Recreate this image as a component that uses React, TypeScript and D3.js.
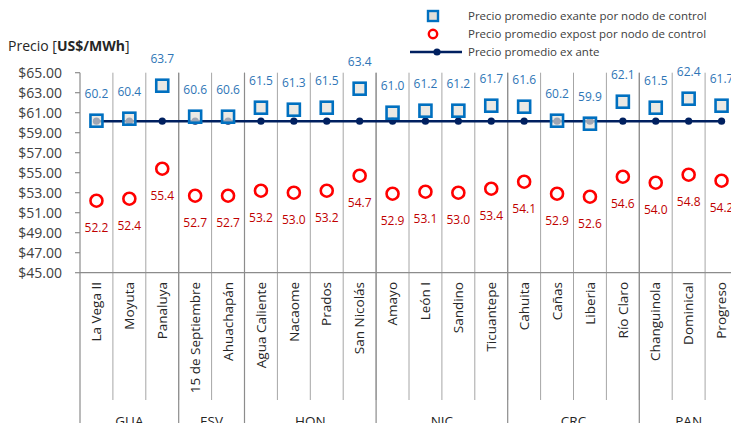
import React from "react";
import * as d3 from "d3";

const nodes = ["La Vega II","Moyuta","Panaluya","15 de Septiembre","Ahuachapán","Agua Caliente","Nacaome","Prados","San Nicolás","Amayo","León I","Sandino","Ticuantepe","Cahuita","Cañas","Liberia","Río Claro","Changuinola","Dominical","Progreso"];
const groups = ["GUA","ESV","HON","NIC","CRC","PAN"];
const groupSizes = [3,2,4,4,4,3];
const exanteNode = [60.2,60.4,63.7,60.6,60.6,61.5,61.3,61.5,63.4,61.0,61.2,61.2,61.7,61.6,60.2,59.9,62.1,61.5,62.4,61.7];
const expostNode = [52.2,52.4,55.4,52.7,52.7,53.2,53.0,53.2,54.7,52.9,53.1,53.0,53.4,54.1,52.9,52.6,54.6,54.0,54.8,54.2];
const exanteAvg = nodes.map(() => 60.15);
const yTicks = [45,47,49,51,53,55,57,59,61,63,65];
const legendLabels = ["Precio promedio exante por nodo de control","Precio promedio expost por nodo de control","Precio promedio ex ante"];

const FONT = "'Open Sans', sans-serif";

export default function App() {
  const left = 80, band = 32.9;
  const x = d3.scaleBand<string>().domain(nodes).range([left, left + band * nodes.length]).padding(0);
  const y = d3.scaleLinear().domain([45, 65]).range([272.7, 72.7]);
  const cx = (i: number) => (x(nodes[i]) as number) + band / 2;
  const right = left + band * nodes.length;
  const line = d3.line<number>().x((_, i) => cx(i)).y(d => y(d));
  let acc = 0;
  const groupBounds = groupSizes.map(s => { const a = acc; acc += s; return [a, acc]; });
  const axisColor = "#8c8c8c";
  return (
    <svg width={731} height={423} style={{ position: "absolute", left: 0, top: 0, fontFamily: FONT }}>
      <rect width={731} height={423} fill="#fff" />
      {nodes.map((n, i) => i > 0 && (
        <line key={"g" + i} x1={x(n)} x2={x(n)} y1={y(65)} y2={400} stroke="#a6a6a6" strokeWidth={1} />
      ))}
      {groupBounds.map(([a], i) => (
        <line key={"gs" + i} x1={left + a * band} x2={left + a * band} y1={y(65)} y2={423} stroke={axisColor} strokeWidth={1.2} />
      ))}
      <line x1={left} x2={right} y1={y(45)} y2={y(45)} stroke={axisColor} strokeWidth={1.2} />
      {yTicks.map(t => (
        <g key={t}>
          <line x1={left - 5} x2={left} y1={y(t)} y2={y(t)} stroke={axisColor} strokeWidth={1.2} />
          <text x={62} y={y(t)} dy="0.35em" textAnchor="end" fontSize={14} fill="#404040">{"$" + t.toFixed(2)}</text>
        </g>
      ))}
      <text x={8} y={51} fontSize={14} fill="#262626">Precio [<tspan fontWeight="bold">US$/MWh</tspan>]</text>
      <path d={line(exanteAvg) || ""} fill="none" stroke="#002060" strokeWidth={2.5} />
      {exanteAvg.map((v, i) => <circle key={"d" + i} cx={cx(i)} cy={y(v)} r={3.6} fill="#002060" />)}
      {exanteNode.map((v, i) => (
        <g key={"s" + i}>
          <rect x={cx(i) - 6} y={y(v) - 6} width={12} height={12} fill="#E2DFD8" fillOpacity={0.7} stroke="#0070C0" strokeWidth={2.6} />
          <text x={cx(i)} y={y(v) - 26.5} dy="0.35em" textAnchor="middle" fontSize={12} fill="#2E75B6">{v.toFixed(1)}</text>
        </g>
      ))}
      {expostNode.map((v, i) => (
        <g key={"c" + i}>
          <circle cx={cx(i)} cy={y(v)} r={6} fill="none" stroke="#FF0000" strokeWidth={2.6} />
          <text x={cx(i)} y={y(v) + 27.5} dy="0.35em" textAnchor="middle" fontSize={12} fill="#C00000">{v.toFixed(1)}</text>
        </g>
      ))}
      {nodes.map((n, i) => (
        <text key={"l" + i} transform={`translate(${cx(i)},${282}) rotate(-90)`} dy="0.35em" textAnchor="end" fontSize={13.5} fill="#262626">{n}</text>
      ))}
      {groupBounds.map(([a, b], i) => (
        <text key={"gl" + i} x={left + (a + b) / 2 * band} y={426} textAnchor="middle" fontSize={13.5} fill="#262626">{groups[i]}</text>
      ))}
      <rect x={428} y={11} width={10} height={10} fill="#E2DFD8" stroke="#0070C0" strokeWidth={2.4} />
      <circle cx={433} cy={34} r={4.2} fill="none" stroke="#FF0000" strokeWidth={2.4} />
      <line x1={410} x2={462} y1={52} y2={52} stroke="#002060" strokeWidth={2.5} />
      <circle cx={437} cy={52} r={3.6} fill="#002060" />
      {legendLabels.map((l, i) => (
        <text key={"lg" + i} x={468} y={16 + i * 18} dy="0.35em" fontSize={11.5} fill="#404040">{l}</text>
      ))}
    </svg>
  );
}
